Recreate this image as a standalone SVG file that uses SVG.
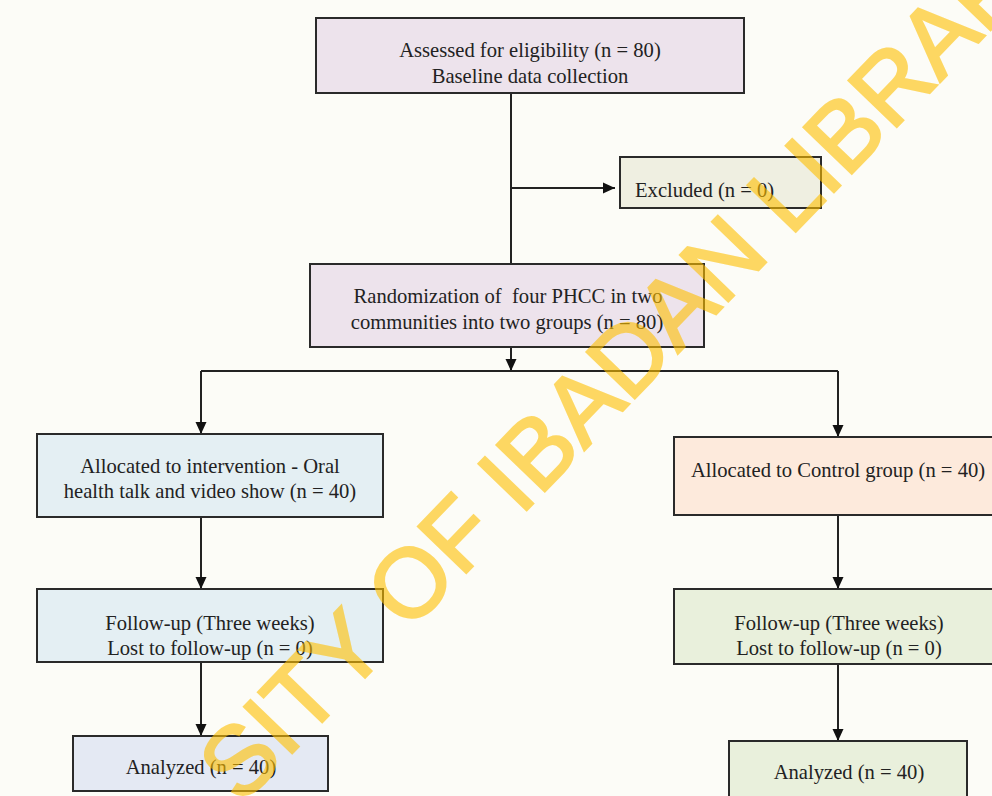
<svg xmlns="http://www.w3.org/2000/svg" width="992" height="796" viewBox="0 0 992 796">
  <style>
    .box { stroke: #2a2a2a; stroke-width: 2; }
    .lbl { font-family: "Liberation Serif", "Times New Roman", serif; font-size: 20.6px; fill: #222; text-anchor: middle; white-space: pre; }
    .edge { stroke: #222; stroke-width: 2; fill: none; }
    .wm { font-family: "Liberation Sans", Arial, sans-serif; font-size: 97px; fill: #ffc000; stroke: #ffc000; stroke-width: 2.5; }
  </style>
  <defs>
    <marker id="arr" viewBox="0 0 12 12" refX="12" refY="6" markerWidth="12" markerHeight="12" markerUnits="userSpaceOnUse" orient="auto">
      <path d="M0,0.5 L12,6 L0,11.5 Z" fill="#111"/>
    </marker>
  </defs>
  <rect x="0" y="0" width="992" height="796" fill="#fcfcf7"/>

  <g id="connectors">
    <path class="edge" d="M511,93 V264"/>
    <path class="edge" d="M511,188 H615" marker-end="url(#arr)"/>
    <path class="edge" d="M511,347 V371" marker-end="url(#arr)"/>
    <path class="edge" d="M201,371 H838"/>
    <path class="edge" d="M201,371 V434" marker-end="url(#arr)"/>
    <path class="edge" d="M838,371 V437" marker-end="url(#arr)"/>
    <path class="edge" d="M201,517 V589" marker-end="url(#arr)"/>
    <path class="edge" d="M201,662 V736" marker-end="url(#arr)"/>
    <path class="edge" d="M838,515 V589" marker-end="url(#arr)"/>
    <path class="edge" d="M838,664 V741" marker-end="url(#arr)"/>
  </g>

  <g id="assessed">
    <rect class="box" x="316" y="18" width="428" height="75" fill="#ede3ec"/>
    <text class="lbl" x="530" y="57">Assessed for eligibility (n = 80)</text>
    <text class="lbl" x="530" y="83">Baseline data collection</text>
  </g>
  <g id="excluded">
    <rect class="box" x="620" y="157" width="201" height="51" fill="#efefe1"/>
    <text class="lbl" x="635" y="197" style="text-anchor:start">Excluded (n = 0)</text>
  </g>
  <g id="randomization">
    <rect class="box" x="310" y="264" width="394" height="83" fill="#ede3ec"/>
    <text class="lbl" x="508" y="303" xml:space="preserve">Randomization of  four PHCC in two</text>
    <text class="lbl" x="507" y="329">communities into two groups (n = 80)</text>
  </g>
  <g id="intervention">
    <rect class="box" x="37" y="434" width="346" height="83" fill="#e4eff3"/>
    <text class="lbl" x="210" y="473">Allocated to intervention - Oral</text>
    <text class="lbl" x="210" y="498">health talk and video show (n = 40)</text>
  </g>
  <g id="control">
    <rect class="box" x="674" y="437" width="328" height="78" fill="#fdeadc"/>
    <text class="lbl" x="838" y="477">Allocated to Control group (n = 40)</text>
  </g>
  <g id="followup-left">
    <rect class="box" x="37" y="589" width="346" height="73" fill="#e4eff3"/>
    <text class="lbl" x="210" y="630">Follow-up (Three weeks)</text>
    <text class="lbl" x="210" y="655">Lost to follow-up (n = 0)</text>
  </g>
  <g id="followup-right">
    <rect class="box" x="674" y="589" width="328" height="75" fill="#e9f0dc"/>
    <text class="lbl" x="839" y="630">Follow-up (Three weeks)</text>
    <text class="lbl" x="839" y="655">Lost to follow-up (n = 0)</text>
  </g>
  <g id="analyzed-left">
    <rect class="box" x="73" y="736" width="255" height="55" fill="#e4e9f3"/>
    <text class="lbl" x="201" y="774">Analyzed (n = 40)</text>
  </g>
  <g id="analyzed-right">
    <rect class="box" x="729" y="741" width="238" height="70" fill="#e9f0dc"/>
    <text class="lbl" x="849" y="779">Analyzed (n = 40)</text>
  </g>

  <g id="watermark" opacity="0.6">
    <text class="wm" transform="translate(241,806) rotate(-46)">SITY OF IBADAN LIBRARY</text>
  </g>
</svg>
